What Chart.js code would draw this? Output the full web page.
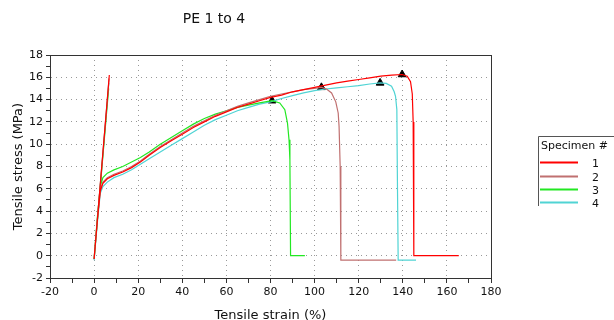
<!DOCTYPE html>
<html>
<head>
<meta charset="utf-8">
<script src="https://cdn.jsdelivr.net/npm/chart.js@4"></script>
<style>
  html, body { margin: 0; padding: 0; background: #fff; }
  #wrap { width: 614px; height: 320px; }
</style>
</head>
<body>
<div id="wrap"><canvas id="myChart"></canvas></div>
<script>
// specimen 1 (red)
var strain1 = [6.9, 0, 1.5, 2.8, 4, 6, 9, 13, 17, 21, 25, 30, 35, 40, 45, 50, 55, 60, 65, 70, 75, 80, 85, 90, 95, 100, 105, 110, 115, 120, 125, 130, 135, 139.7, 142, 143.5, 144.3, 144.7, 145, 150, 155, 160, 165.4];
var stress1 = [16.2, -0.3, 3.2, 5.8, 6.5, 6.9, 7.2, 7.5, 7.9, 8.4, 9.0, 9.7, 10.3, 10.9, 11.5, 12.0, 12.5, 12.9, 13.3, 13.6, 13.9, 14.2, 14.4, 14.7, 14.9, 15.1, 15.3, 15.5, 15.65, 15.8, 15.95, 16.1, 16.2, 16.25, 16.1, 15.6, 14.5, 12, 0, 0, 0, 0, 0];
// specimen 2 (rosy)
var strain2 = [6.8, 0, 1.5, 2.8, 4, 6, 9, 13, 17, 21, 25, 30, 35, 40, 45, 50, 55, 60, 65, 70, 75, 80, 85, 90, 95, 100, 103.1, 105.4, 107.7, 109.6, 110.7, 111.1, 111.6, 111.9, 120, 130, 137];
var stress2 = [15.9, -0.3, 3.3, 5.9, 6.6, 7.0, 7.3, 7.6, 8.0, 8.5, 9.1, 9.8, 10.4, 11.0, 11.6, 12.1, 12.6, 13.0, 13.4, 13.7, 14.0, 14.3, 14.5, 14.7, 14.9, 15.0, 15.1, 14.95, 14.6, 13.8, 12.8, 11.6, 8, -0.4, -0.4, -0.4, -0.4];
// specimen 3 (green)
var strain3 = [6.6, 0, 1.5, 2.8, 4, 6, 9, 13, 17, 21, 25, 30, 35, 40, 45, 50, 55, 60, 65, 70, 75, 80.7, 84.2, 86.5, 87.7, 88.4, 88.8, 89.1, 92, 95.6];
var stress3 = [15.0, -0.3, 3.5, 6.2, 7.0, 7.4, 7.7, 8.0, 8.4, 8.8, 9.3, 10.0, 10.6, 11.2, 11.8, 12.3, 12.7, 13.0, 13.3, 13.5, 13.7, 13.9, 13.7, 13.1, 11.9, 10.4, 8.6, 0, 0, 0];
// specimen 4 (cyan)
var strain4 = [6.7, 0, 1.5, 2.8, 4, 6, 9, 13, 17, 21, 25, 30, 35, 40, 45, 50, 55, 60, 65, 70, 75, 80, 85, 90, 95, 100, 105, 110, 115, 120, 125, 129.7, 132.5, 134.9, 136.1, 136.7, 137.3, 137.5, 137.9, 142, 146];
var stress4 = [15.5, -0.4, 3.0, 5.6, 6.2, 6.6, 7.0, 7.3, 7.7, 8.2, 8.7, 9.3, 9.9, 10.5, 11.1, 11.7, 12.2, 12.6, 13.0, 13.3, 13.6, 13.8, 14.1, 14.35, 14.6, 14.8, 14.95, 15.05, 15.15, 15.25, 15.4, 15.5, 15.45, 15.2, 14.7, 14.3, 13.1, 8, -0.4, -0.4, -0.4];

// break markers
var peakStrain = [139.7, 103.1, 80.7, 129.7];
var peakStress = [16.25, 15.1, 13.9, 15.5];

var names = ['1', '2', '3', '4'];
var colors = ['#ff0000', '#c07070', '#22e822', '#50d4d4'];

function pts(xs, ys) {
  var out = [];
  for (var i = 0; i < xs.length; i++) out.push({x: xs[i], y: ys[i]});
  return out;
}

var series = [pts(strain1, stress1), pts(strain2, stress2), pts(strain3, stress3), pts(strain4, stress4)];
var datasets = [];
for (var i = 0; i < 4; i++) {
  datasets.push({
    label: names[i],
    data: series[i],
    showLine: true,
    borderColor: colors[i],
    backgroundColor: colors[i],
    borderWidth: 1.2,
    pointRadius: 0,
    tension: 0
  });
}
datasets.push({
  label: 'peaks',
  data: pts(peakStrain, peakStress),
  showLine: false,
  pointStyle: 'triangle',
  pointRadius: 4.5,
  backgroundColor: '#000',
  borderColor: '#000',
  borderWidth: 1
});

var FONT = 'DejaVu Sans';

var extras = {
  id: 'extras',
  afterDraw: function (chart) {
    var c = chart.ctx, a = chart.chartArea;
    c.save();
    // plot frame
    c.strokeStyle = '#333';
    c.lineWidth = 1;
    c.strokeRect(a.left + 0.5, a.top + 0.5, a.right - a.left, a.bottom - a.top);
    // title
    c.fillStyle = '#111';
    c.font = '14px "' + FONT + '"';
    c.textAlign = 'center';
    c.textBaseline = 'middle';
    c.fillText('PE 1 to 4', 214, 19);
    // legend box
    c.strokeStyle = '#555';
    c.beginPath();
    c.moveTo(538.5, 206); c.lineTo(538.5, 136.5); c.lineTo(614, 136.5);
    c.stroke();
    c.font = '11px "' + FONT + '"';
    c.textAlign = 'left';
    c.fillStyle = '#111';
    c.fillText('Specimen #', 541, 146);
    var ys = [162, 176, 189, 202];
    for (var k = 0; k < 4; k++) {
      c.strokeStyle = colors[k];
      c.lineWidth = 2;
      c.beginPath();
      c.moveTo(540, ys[k] + 0.5); c.lineTo(578, ys[k] + 0.5);
      c.stroke();
      c.fillText(names[k], 592, ys[k] + 2);
    }
    c.restore();
  }
};

var ctx = document.getElementById('myChart').getContext('2d');
var myChart = new Chart(ctx, {
  type: 'scatter',
  data: { datasets: datasets },
  options: {
    responsive: true,
    maintainAspectRatio: false,
    animation: false,
    layout: { padding: { top: 55, right: 123, left: 0, bottom: 0 } },
    plugins: {
      legend: { display: false },
      title: { display: false },
      tooltip: { enabled: false }
    },
    scales: {
      x: {
        min: -20,
        max: 180,
        afterFit: function (s) { s.height = 42; },
        ticks: {
          stepSize: 10,
          autoSkip: false,
          maxRotation: 0,
          padding: 3,
          color: '#111',
          font: { family: FONT, size: 11 },
          callback: function (v) { return v % 20 === 0 ? v : ''; }
        },
        grid: {
          color: function (c) { return (c.tick && c.tick.value % 20 === 0) ? '#999' : 'rgba(0,0,0,0)'; },
          tickColor: '#333',
          tickLength: 5
        },
        border: { color: '#333', dash: [1, 4] },
        title: {
          display: true,
          text: 'Tensile strain (%)',
          color: '#111',
          font: { family: FONT, size: 13, lineHeight: 1 },
          padding: { top: 0, bottom: -2 }
        }
      },
      y: {
        min: -2,
        max: 18,
        afterFit: function (s) { s.width = 50; },
        ticks: {
          stepSize: 1,
          autoSkip: false,
          padding: 3,
          color: '#111',
          font: { family: FONT, size: 11 },
          callback: function (v) { return v % 2 === 0 ? v : ''; }
        },
        grid: {
          color: function (c) { return (c.tick && c.tick.value % 2 === 0) ? '#999' : 'rgba(0,0,0,0)'; },
          tickColor: '#333',
          tickLength: 4
        },
        border: { color: '#333', dash: [1, 4] },
        title: {
          display: true,
          text: 'Tensile stress (MPa)',
          color: '#111',
          font: { family: FONT, size: 13, lineHeight: 1 },
          padding: { top: 12, bottom: 0 }
        }
      }
    }
  },
  plugins: [extras]
});
</script>
</body>
</html>
